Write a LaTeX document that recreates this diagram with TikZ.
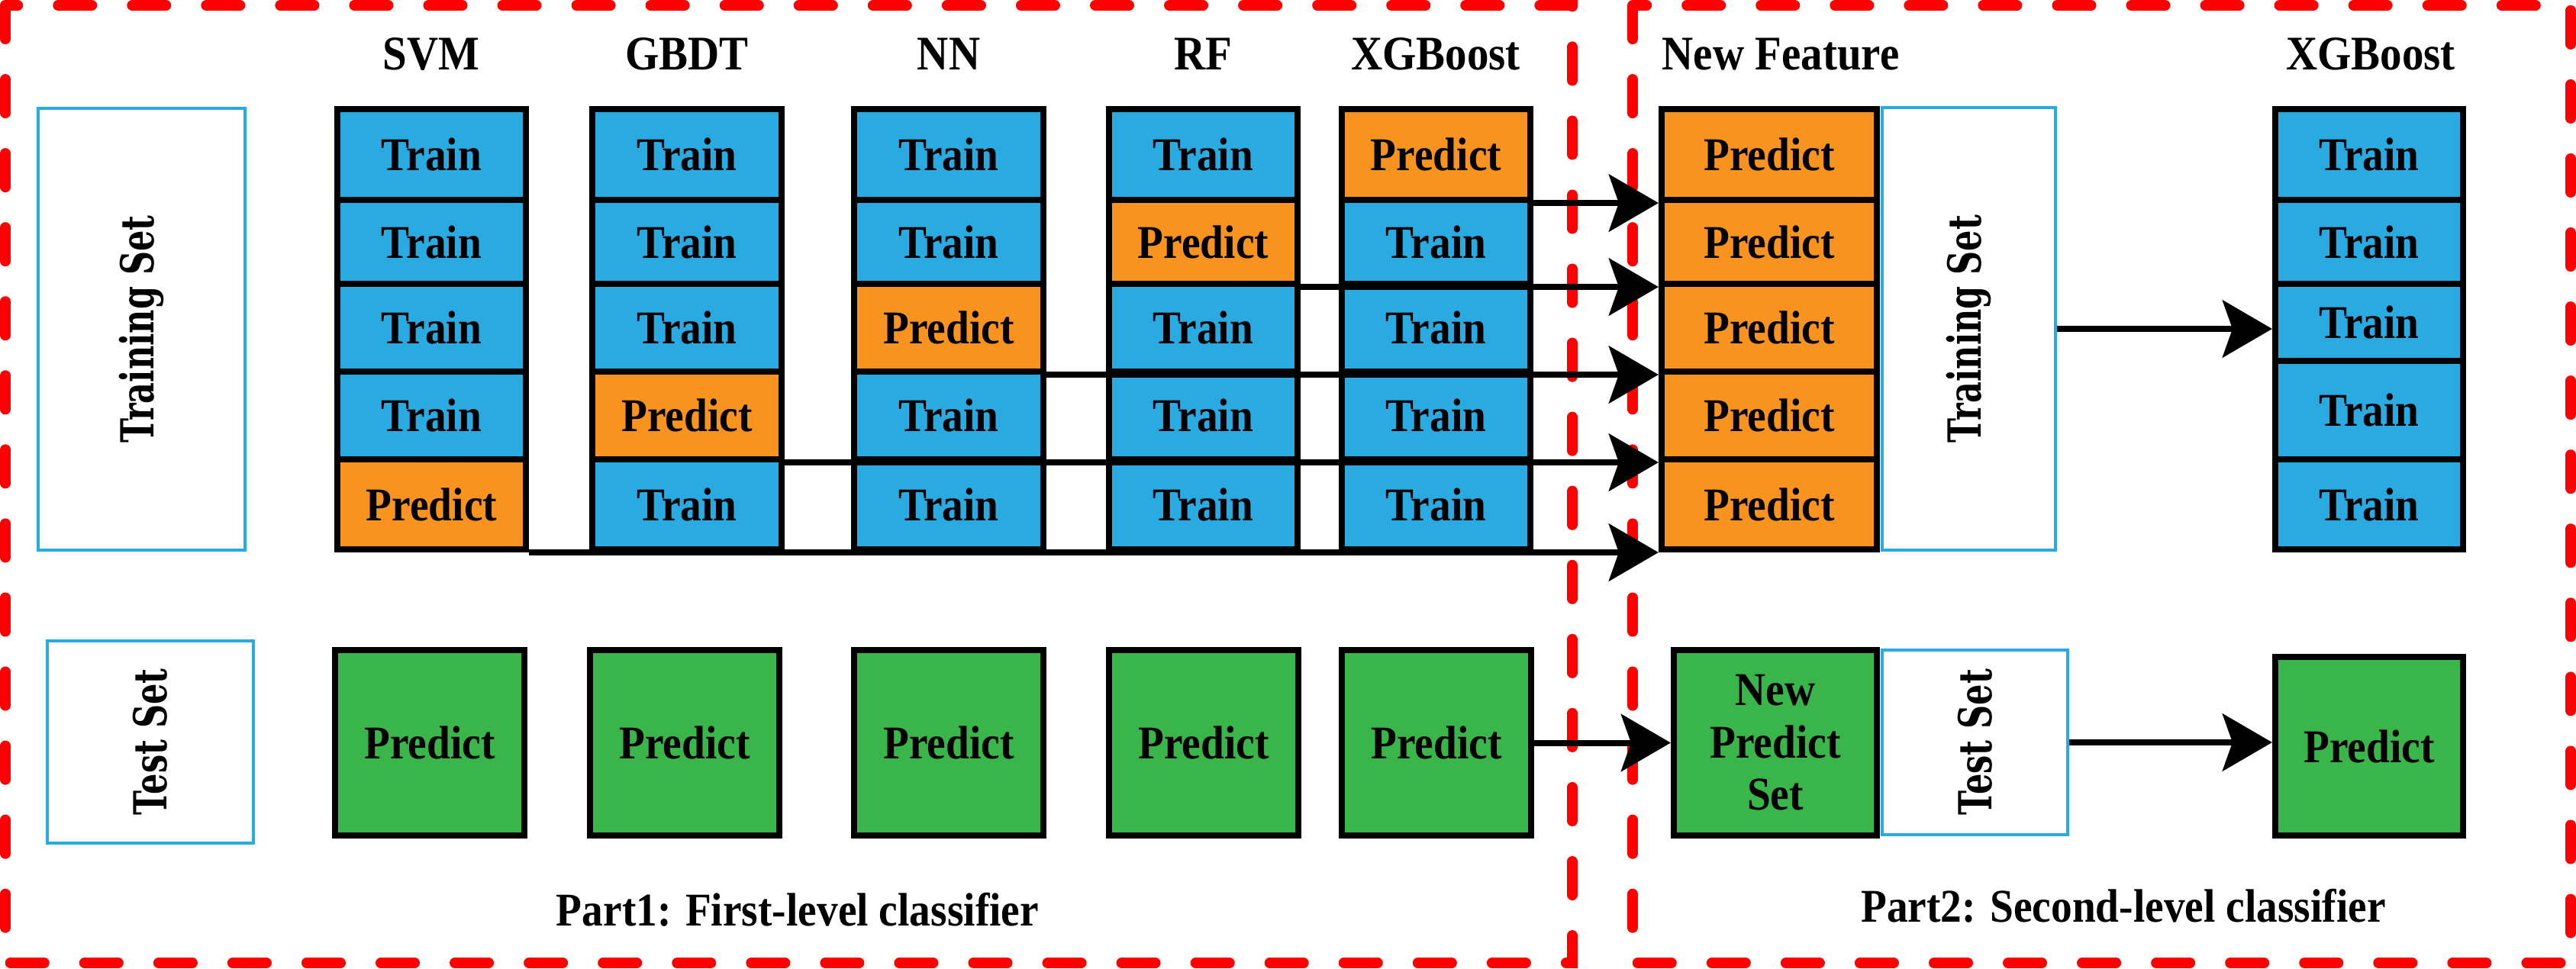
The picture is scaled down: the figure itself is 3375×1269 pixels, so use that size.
\documentclass[tikz,border=0pt]{standalone}
\usepackage{fontspec}
\setmainfont{Liberation Serif}[FakeStretch=0.9]
\newfontfamily\slabfont{DejaVu Serif}[FakeStretch=0.72]
\usetikzlibrary{arrows.meta}
\definecolor{trainc}{HTML}{29ABE2}
\definecolor{predc}{HTML}{F7931E}
\definecolor{testc}{HTML}{39B54A}
\definecolor{redd}{HTML}{FF0000}
\definecolor{setc}{HTML}{29ABE2}
\tikzset{
  redbox/.style={draw=redd, line width=0.14cm, line cap=round, dash pattern=on 0.44cm off 0.53cm},
  cell/.style={draw=black, line width=0.08cm, inner sep=0pt, minimum width=2.47cm,
    font=\fontsize{17.5pt}{19.5pt}\selectfont\bfseries, align=center},
  setbox/.style={draw=setc, line width=0.04cm, inner sep=0pt},
  settext/.style={font=\slabfont\bfseries\fontsize{17pt}{19pt}\selectfont, rotate=90},
  hdr/.style={font=\fontsize{18pt}{20pt}\selectfont\bfseries, anchor=base, inner sep=0pt},
  partlbl/.style={font=\fontsize{17.5pt}{20pt}\selectfont\bfseries, anchor=base, inner sep=0pt},
  conn/.style={line width=0.08cm, -{Stealth[length=0.65cm, width=0.75cm, inset=0.13cm]}},
}
\begin{document}
\begin{tikzpicture}[x=0.01cm, y=-0.01cm]
\useasboundingbox (0,0) rectangle (3375,1269);
\fill[white] (0,0) rectangle (3375,1269);

% red dashed frames
\draw[redbox] (7,7) rectangle (2060,1262);
\draw[redbox] (2139,7) rectangle (3368,1262);

% headers
\node[hdr] (hsvm) at (565,91) {SVM};
\node[hdr] (hgbdt) at (900,91) {GBDT};
\node[hdr] (hnn) at (1243,91) {NN};
\node[hdr] (hrf) at (1576,91) {RF};
\node[hdr] (hxgb) at (1881,91) {XGBoost};
\node[hdr] (hnf) at (2333,91) {New Feature};
\node[hdr] (hxgb2) at (3106,91) {XGBoost};

% set boxes
\node[setbox, minimum width=2.70cm, minimum height=5.79cm] (trs) at (185.5,431.5) {};
\node[settext] at (trs.center) {Training Set};
\node[setbox, minimum width=2.70cm, minimum height=2.65cm] (tes) at (197,972.5) {};
\node[settext] at (tes.center) {Test Set};

% first-level stacks
\foreach \c/\x/\p in {svm/565.5/4, gbdt/900/3, nn/1243/2, rf/1576.5/1, xgb/1881.5/0}{
  \foreach \r/\y/\h in {0/202.5/1.19, 1/317/1.10, 2/429.5/1.15, 3/544.5/1.15, 4/661/1.18}{
    \ifnum\r=\p
      \node[cell, fill=predc, minimum height=\h cm] (\c\r) at (\x,\y) {Predict};
    \else
      \node[cell, fill=trainc, minimum height=\h cm] (\c\r) at (\x,\y) {Train};
    \fi
  }
}

% new feature stack
\foreach \r/\y/\h in {0/202.5/1.19, 1/317/1.10, 2/429.5/1.15, 3/544.5/1.15, 4/661/1.18}{
  \node[cell, fill=predc, minimum width=2.82cm, minimum height=\h cm] (nf\r) at (2318,\y) {Predict};
}

% second-level training set
\node[setbox, minimum width=2.27cm, minimum height=5.79cm] (trs2) at (2579.5,431) {};
\node[settext] at (trs2.center) {Training Set};

% second-level XGBoost stack
\foreach \r/\y/\h in {0/202.5/1.19, 1/317/1.10, 2/422.5/1.01, 3/537.5/1.29, 4/661/1.18}{
  \node[cell, fill=trainc, minimum width=2.46cm, minimum height=\h cm] (xgbb\r) at (3104,\y) {Train};
}

% test row
\foreach \c/\x in {svmt/563, gbdtt/897, nnt/1243, rft/1577, xgbt/1882}{
  \node[cell, fill=testc, minimum width=2.48cm, minimum height=2.43cm] (\c) at (\x,973.5) {Predict};
}
\node[cell, fill=testc, minimum width=2.66cm, minimum height=2.43cm] (nps) at (2326,973.5) {New\\Predict\\Set};
\node[setbox, minimum width=2.43cm, minimum height=2.42cm] (tes2) at (2587.5,973) {};
\node[settext] at (tes2.center) {Test Set};
\node[cell, fill=testc, minimum width=2.46cm, minimum height=2.34cm] (pr2) at (3104,978) {Predict};

% connectors first level -> new feature
\draw[conn] (xgb0.south east) -- (nf0.south west);
\draw[conn] (rf1.south east) -- (nf1.south west);
\draw[conn] (nn2.south east) -- (nf2.south west);
\draw[conn] (gbdt3.south east) -- (nf3.south west);
\draw[conn] (svm4.south east) -- (nf4.south west);

% other connectors
\draw[conn] (trs2.east) -- (trs2.east -| xgbb2.west);
\draw[conn] (xgbt.east) -- (xgbt.east -| nps.west);
\draw[conn] (tes2.east) -- (tes2.east -| pr2.west);

% part labels
\node[partlbl] (p1) at (1045,1213) {Part1: First-level classifier};
\node[partlbl] (p2) at (2782,1208) {Part2: Second-level classifier};
\end{tikzpicture}
\end{document}
